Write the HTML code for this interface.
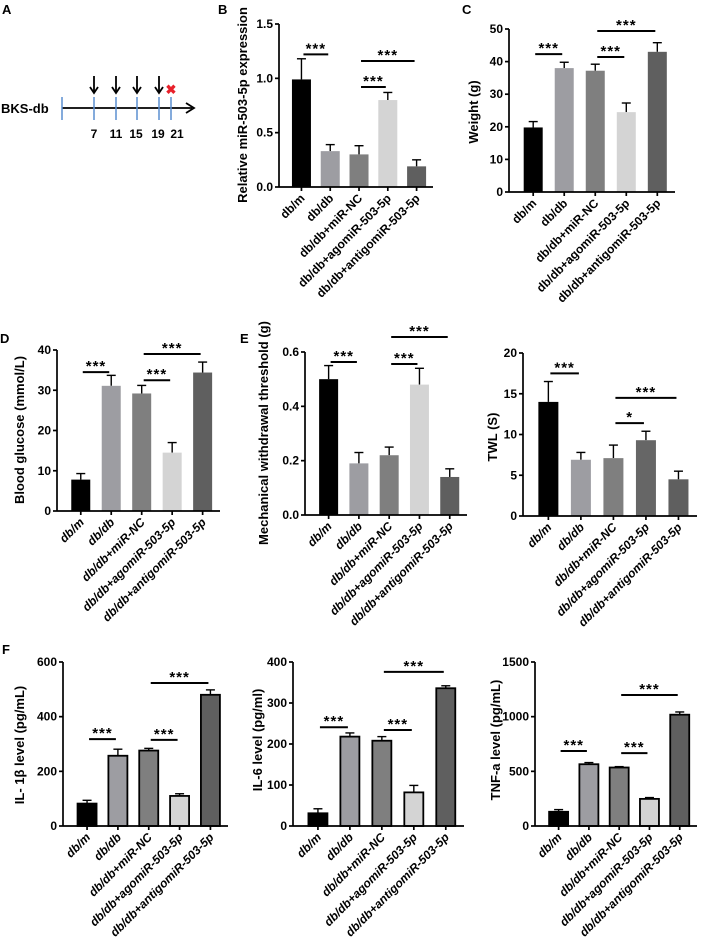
<!DOCTYPE html>
<html><head><meta charset="utf-8"><style>
body{margin:0;background:#fff}
svg{display:block;font-family:"Liberation Sans",Arial,sans-serif;font-weight:bold}
</style></head><body>
<svg id="fig" width="707" height="945" viewBox="0 0 707 945" xmlns="http://www.w3.org/2000/svg">
<g>
<text x="2" y="14" font-size="13">A</text>
<text x="1" y="113" font-size="13">BKS-db</text>
<line x1="62" y1="108" x2="192" y2="108" stroke="#000" stroke-width="1.8"/>
<polyline points="186,103 194,108 186,113" fill="none" stroke="#000" stroke-width="1.8"/>
<g stroke="#5b8fd0" stroke-width="1.5">
<line x1="62" y1="97" x2="62" y2="120"/><line x1="94" y1="97" x2="94" y2="120"/><line x1="116" y1="97" x2="116" y2="120"/><line x1="137" y1="97" x2="137" y2="120"/><line x1="159" y1="97" x2="159" y2="120"/><line x1="171" y1="97" x2="171" y2="120"/></g>
<g stroke="#000" stroke-width="1.8" fill="none">
<line x1="94" y1="76" x2="94" y2="93"/><polyline points="90,87 94,93 98,87"/>
<line x1="116" y1="76" x2="116" y2="93"/><polyline points="112,87 116,93 120,87"/>
<line x1="137" y1="76" x2="137" y2="93"/><polyline points="133,87 137,93 141,87"/>
<line x1="159" y1="76" x2="159" y2="93"/><polyline points="155,87 159,93 163,87"/></g>
<text x="171" y="94" font-size="13" fill="#e8202a" text-anchor="middle">✖</text>
<g font-size="12" text-anchor="middle">
<text x="94" y="138">7</text><text x="116" y="138">11</text><text x="136" y="138">15</text><text x="158" y="138">19</text><text x="177" y="138">21</text></g>
</g>
<text x="218" y="14" font-size="13">B</text>
<text x="462" y="14" font-size="13">C</text>
<text x="0" y="343" font-size="13">D</text>
<text x="240" y="343" font-size="13">E</text>
<text x="2" y="654" font-size="13">F</text>
</svg>
<script>
const categories=["db/m","db/db","db/db+miR-NC","db/db+agomiR-503-5p","db/db+antigomiR-503-5p"];
const miRValues=[0.99,0.33,0.30,0.80,0.19];const miRErr=[0.19,0.06,0.08,0.07,0.06];
const weightValues=[19.8,38,37.2,24.5,43];const weightErr=[1.8,1.8,2,2.8,2.8];
const glucoseValues=[7.8,31.1,29.2,14.5,34.4];const glucoseErr=[1.5,2.6,2,2.5,2.6];
const mwtValues=[0.50,0.19,0.22,0.48,0.14];const mwtErr=[0.05,0.04,0.03,0.06,0.03];
const twlValues=[14,6.9,7.1,9.3,4.5];const twlErr=[2.5,0.9,1.6,1.1,1];
const il1Values=[82,257,276,110,480];const il1Err=[12,24,8,8,18];
const il6Values=[31,218,208,82,336];const il6Err=[11,9,10,17,6];
const tnfValues=[130,565,535,248,1018];const tnfErr=[20,15,8,12,25];
const miRTicks=["0.0","0.5","1.0","1.5"];const weightTicks=["0","10","20","30","40","50"];
const glucoseTicks=["0","10","20","30","40"];const mwtTicks=["0.0","0.2","0.4","0.6"];
const twlTicks=["0","5","10","15","20"];const il1Ticks=["0","200","400","600"];
const il6Ticks=["0","100","200","300","400"];const tnfTicks=["0","500","1000","1500"];
const miRSig=[[0,1,1.22,"***"],[2,3,0.92,"***"],[2,4,1.16,"***"]];
const weightSig=[[0,1,42.3,"***"],[2,3,41.4,"***"],[2,4,49.4,"***"]];
const glucoseSig=[[0,1,34.5,"***"],[2,3,32.5,"***"],[2,4,39,"***"]];
const mwtSig=[[0,1,0.563,"***"],[2,3,0.556,"***"],[2,4,0.655,"***"]];
const twlSig=[[0,1,17.5,"***"],[2,3,11.4,"*"],[2,4,14.5,"***"]];
const il1Sig=[[0,1,318,"***"],[2,3,315,"***"],[2,4,523,"***"]];
const il6Sig=[[0,1,241,"***"],[2,3,234,"***"],[2,4,376,"***"]];
const tnfSig=[[0,1,686,"***"],[2,3,667,"***"],[2,4,1198,"***"]];
const fills=["#000","#9d9da2","#7f7f7f","#d4d4d4","#5f5f5f"];
const NS="http://www.w3.org/2000/svg";const svg=document.getElementById('fig');
function mk(tag,attrs,parent){const e=document.createElementNS(NS,tag);for(const k in attrs)e.setAttribute(k,attrs[k]);parent.appendChild(e);return e;}
function chart(c){
 const g=mk('g',{},svg);
 
 
 const ymax=parseFloat(c.ticks[c.ticks.length-1]);
 const ys=v=>c.y0-(v/ymax)*(c.y0-c.y1);
 const step=(c.xl-c.x0)/5.35; const xs=i=>c.x0+step*(0.78+i);
 const bw=c.bw;
 c.vals.forEach((v,i)=>{
  const cx=xs(i);
  const err=mk('g',{stroke:'#000','stroke-width':1.4},g);
  
  
  mk('line',{x1:cx,x2:cx,y1:ys(v),y2:ys(v+c.err[i])},err);
  mk('line',{x1:cx-4.5,x2:cx+4.5,y1:ys(v+c.err[i]),y2:ys(v+c.err[i])},err);
  const f=(c.fills||fills)[i];
  const r=mk('rect',{x:cx-bw/2,y:ys(v),width:bw,height:c.y0-ys(v),fill:f},g);
  if(c.outline){r.setAttribute('stroke','#000');r.setAttribute('stroke-width','1.8');}
  
  
 });
 const ax=mk('g',{stroke:'#000','stroke-width':1.7},g);
 
 
 mk('line',{x1:c.x0,x2:c.x0,y1:c.y1,y2:c.y0},ax);
 mk('line',{x1:c.x0,x2:c.xl,y1:c.y0,y2:c.y0},ax);
 c.ticks.forEach(t=>{const y=ys(parseFloat(t));mk('line',{x1:c.x0-4,x2:c.x0,y1:y,y2:y},ax);
  const tx=mk('text',{x:c.x0-6,y:y+4,'font-size':12,'text-anchor':'end'},g);tx.textContent=t;
  
  });
 categories.forEach((cat,i)=>{const cx=xs(i);mk('line',{x1:cx,x2:cx,y1:c.y0,y2:c.y0+4},ax);
  const tx=mk('text',{x:cx+4,y:c.y0+12,'font-size':12,'text-anchor':'end',transform:`rotate(-45 ${cx+4} ${c.y0+12})`,'font-style':c.italic?'italic':'normal'},g);tx.textContent=cat;
  
  });
 const yl=mk('text',{x:c.lx,y:c.ly,'font-size':c.lfs||13,'text-anchor':'middle',transform:`rotate(-90 ${c.lx} ${c.ly})`},g);yl.textContent=c.label;
 
 
 c.sig.forEach(s=>{const y=ys(s[2]);
  const l=mk('line',{x1:xs(s[0])+2,x2:xs(s[1])-2,y1:y,y2:y,stroke:'#000','stroke-width':2},g);
  
  
  const t=mk('text',{x:(xs(s[0])+xs(s[1]))/2,y:y-1,'font-size':15,'letter-spacing':'1','text-anchor':'middle'},g);t.textContent=s[3];
  
  });
}
chart({name:'chart-mir-expression',x0:279,xl:433,y0:187,y1:24,bw:19,vals:miRValues,err:miRErr,ticks:miRTicks,sig:miRSig,label:'Relative miR-503-5p expression',lx:247,ly:105});
chart({name:'chart-weight',x0:509,xl:675,y0:192,y1:29,bw:19,vals:weightValues,err:weightErr,ticks:weightTicks,sig:weightSig,label:'Weight (g)',lx:478,ly:112});
chart({name:'chart-blood-glucose',x0:57,xl:220,y0:511,y1:350,bw:19,vals:glucoseValues,err:glucoseErr,ticks:glucoseTicks,sig:glucoseSig,label:'Blood glucose (mmol/L)',lx:24,ly:430,italic:true});
chart({name:'chart-mechanical-withdrawal',x0:305,xl:467,y0:515,y1:352,bw:19,vals:mwtValues,err:mwtErr,ticks:mwtTicks,sig:mwtSig,label:'Mechanical withdrawal threshold (g)',lx:268,ly:433,italic:true});
chart({name:'chart-twl',x0:523,xl:697,y0:516,y1:353,bw:20,vals:twlValues,err:twlErr,ticks:twlTicks,sig:twlSig,label:'TWL (S)',lx:497,ly:437,italic:true,fills:["#000","#9d9da2","#7f7f7f","#666","#5f5f5f"]});
chart({name:'chart-il1b',x0:63,xl:228,y0:826,y1:662,bw:19,vals:il1Values,err:il1Err,ticks:il1Ticks,sig:il1Sig,label:'IL- 1β level (pg/mL)',lx:24,ly:745,italic:true,outline:true});
chart({name:'chart-il6',x0:293,xl:464,y0:826,y1:662,bw:19,vals:il6Values,err:il6Err,ticks:il6Ticks,sig:il6Sig,label:'IL-6 level (pg/ml)',lx:262,ly:740,italic:true,outline:true});
chart({name:'chart-tnfa',x0:535,xl:697,y0:826,y1:662,bw:19,vals:tnfValues,err:tnfErr,ticks:tnfTicks,sig:tnfSig,label:'TNF-a level (pg/mL)',lx:500,ly:740,italic:true,outline:true});
</script>
</body></html>
